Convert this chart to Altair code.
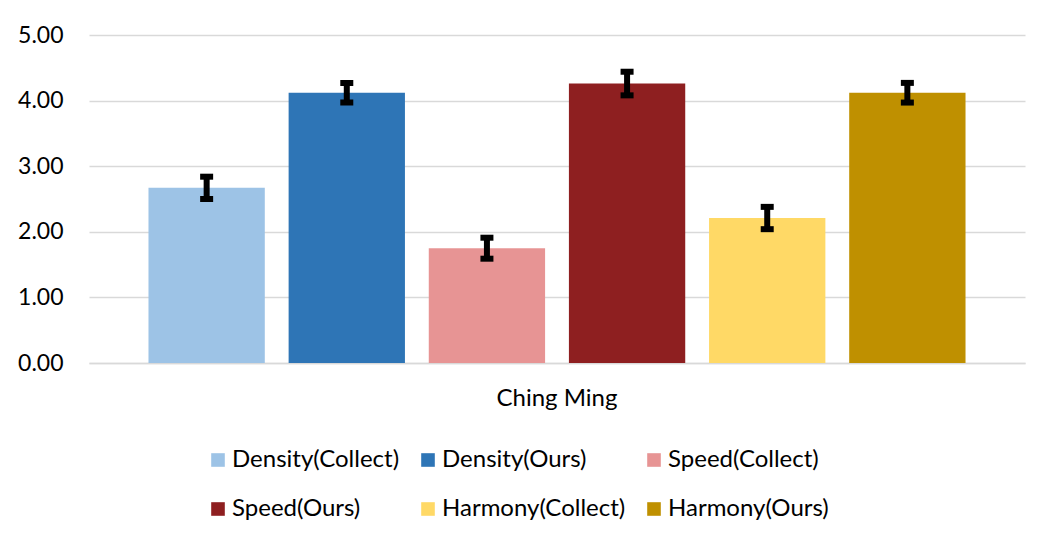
import altair as alt
import pandas as pd

group = ["Ching Ming"]
series = ["Density(Collect)", "Density(Ours)", "Speed(Collect)",
          "Speed(Ours)", "Harmony(Collect)", "Harmony(Ours)"]
values = [2.67, 4.12, 1.75, 4.26, 2.21, 4.12]
errors = [0.17, 0.15, 0.16, 0.18, 0.17, 0.15]
colors = ["#9DC3E6", "#2E75B6", "#E79494", "#8E1F20", "#FFD966", "#BF9000"]

df = pd.DataFrame({
    "group": group * len(series),
    "series": series,
    "value": values,
    "lo": [v - e for v, e in zip(values, errors)],
    "hi": [v + e for v, e in zip(values, errors)],
})

FONT = "Lato"

x_enc = alt.X("group:N", title=None,
              scale=alt.Scale(paddingInner=0, paddingOuter=0.0728),
              axis=alt.Axis(labelAngle=0, labelFontSize=24, labelColor="#000000",
                            labelPadding=23, ticks=False, domainColor="#D9D9D9",
                            domainWidth=1.5, grid=False))
xo_enc = alt.XOffset("series:N", sort=series,
                     scale=alt.Scale(paddingInner=0.17, paddingOuter=0))

base = alt.Chart(df)

bars = base.mark_bar(stroke=None).encode(
    x=x_enc,
    xOffset=xo_enc,
    y=alt.Y("value:Q", title=None,
            scale=alt.Scale(domain=[0, 5], nice=False),
            axis=alt.Axis(values=[0, 1, 2, 3, 4, 5], format=".2f",
                          labelFontSize=23, labelColor="#000000", labelPadding=26,
                          ticks=False, domain=False, gridColor="#D9D9D9",
                          gridWidth=1.5)),
    color=alt.Color("series:N", sort=series,
                    scale=alt.Scale(domain=series, range=colors),
                    legend=alt.Legend(title=None, orient="none", legendX=117,
                                      legendY=413, columns=3, direction="horizontal",
                                      symbolType="square", symbolSize=185,
                                      symbolStrokeWidth=0, labelFontSize=24,
                                      labelColor="#000000", labelOffset=2,
                                      columnPadding=16, rowPadding=25,
                                      padding=0, labelLimit=400)),
)

rules = base.mark_rule(color="#000000", strokeWidth=6, opacity=1).encode(
    x=alt.X("group:N"),
    xOffset=alt.XOffset("series:N", sort=series),
    y="lo:Q",
    y2="hi:Q",
)

caps_lo = base.mark_tick(color="#000000", thickness=6, size=13, opacity=1).encode(
    x=alt.X("group:N"),
    xOffset=alt.XOffset("series:N", sort=series),
    y="lo:Q",
)
caps_hi = base.mark_tick(color="#000000", thickness=6, size=13, opacity=1).encode(
    x=alt.X("group:N"),
    xOffset=alt.XOffset("series:N", sort=series),
    y="hi:Q",
)

chart = alt.layer(bars, rules, caps_lo, caps_hi).properties(
    width=936, height=328,
    padding={"left": 81, "top": 27, "right": 20, "bottom": 170},
    autosize=alt.AutoSizeParams(type="none"),
).configure(font=FONT).configure_view(stroke=None)

chart.save("out.html", embed_options={"renderer": "svg", "actions": False})
